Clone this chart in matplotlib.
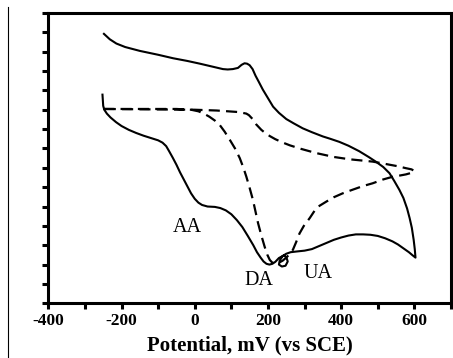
import matplotlib
matplotlib.use("Agg")
import matplotlib.pyplot as plt
from matplotlib.lines import Line2D
from matplotlib.ticker import MultipleLocator, NullFormatter

# Solid CV (mixture): potential (mV) and current (arb. units)
solid_x = [-252, -250, -247, -240, -230, -215, -200, -180, -160, -140, -120, -100, -88, -78,
           -70, -60, -50, -40, -30, -20, -10, 0, 10, 20, 35, 55, 70, 85, 100, 115, 130, 145,
           160, 170, 180, 188, 196, 204, 212, 220, 230, 242, 250, 254, 248, 238, 230, 232,
           240, 250, 262, 280, 300, 320, 340, 360, 380, 400, 420, 440, 460, 480, 500, 520,
           540, 555, 570, 585, 595, 603,
           601, 598, 593, 587, 580, 570, 559, 545, 532, 515, 496, 475, 449, 420, 395, 370,
           350, 320, 295, 270, 250, 230, 214, 200, 186, 175, 166, 158, 150, 143, 136, 128,
           118, 104, 90, 77, 50, 14, -20, -59, -100, -150, -190, -214, -232, -248]
solid_y = [5.39, 5.10, 5.00, 4.90, 4.80, 4.68, 4.58, 4.48, 4.40, 4.33, 4.27, 4.21, 4.15, 4.06,
           3.93, 3.76, 3.58, 3.38, 3.20, 3.02, 2.84, 2.70, 2.60, 2.54, 2.50, 2.49, 2.46, 2.40,
           2.30, 2.15, 1.97, 1.74, 1.50, 1.32, 1.18, 1.08, 1.02, 1.00, 1.02, 1.07, 1.17, 1.23,
           1.20, 1.08, 0.97, 0.95, 1.00, 1.10, 1.22, 1.28, 1.32, 1.34, 1.36, 1.40, 1.48, 1.56,
           1.64, 1.70, 1.75, 1.78, 1.78, 1.77, 1.74, 1.68, 1.60, 1.52, 1.42, 1.32, 1.24, 1.18,
           1.40, 1.64, 1.95, 2.20, 2.45, 2.72, 2.93, 3.16, 3.36, 3.52, 3.65, 3.78, 3.93, 4.07,
           4.17, 4.25, 4.31, 4.42, 4.52, 4.65, 4.76, 4.92, 5.08, 5.30, 5.52, 5.72, 5.88, 6.05,
           6.15, 6.19, 6.20, 6.16, 6.08, 6.05, 6.04, 6.05, 6.11, 6.19, 6.26, 6.33, 6.42, 6.52,
           6.62, 6.71, 6.82, 6.96]

# Dashed CV (DA alone)
dash_x = [-250, -150, -50, -10, 10, 23, 40, 55, 68, 82, 96, 110, 123, 133, 141, 150, 159, 166,
          173, 182, 191, 198, 205, 212, 220, 230, 240, 250, 260, 268, 277, 286, 298, 314, 328,
          341, 360, 380, 404, 430, 460, 486, 515, 541, 560, 577, 592, 600,
          592, 577, 555, 532, 510, 486, 455, 423, 380, 332, 290, 260, 241, 220, 205, 195, 182,
          168, 158, 148, 141, 120, 90, 60, 0, -250]
dash_y = [5.02, 5.02, 5.02, 5.00, 4.96, 4.91, 4.82, 4.72, 4.61, 4.43, 4.22, 4.00, 3.75, 3.50,
          3.27, 2.98, 2.67, 2.37, 2.07, 1.75, 1.46, 1.26, 1.12, 1.05, 1.03, 1.05, 1.10, 1.18,
          1.28, 1.38, 1.58, 1.80, 2.00, 2.20, 2.40, 2.52, 2.63, 2.74, 2.84, 2.93, 3.03, 3.10,
          3.20, 3.27, 3.30, 3.33, 3.37, 3.42,
          3.46, 3.49, 3.54, 3.58, 3.62, 3.66, 3.69, 3.72, 3.78, 3.88, 3.99, 4.08, 4.15, 4.24,
          4.32, 4.38, 4.48, 4.62, 4.76, 4.86, 4.90, 4.94, 4.96, 4.98, 5.00, 5.02]

labels = ["AA", "DA", "UA"]
label_x = [-19, 175, 336]
label_y = [1.95, 0.60, 0.78]

xticks = [-400, -200, 0, 200, 400, 600]

fig = plt.figure(figsize=(4.53, 3.58), dpi=100)
ax = fig.add_axes([0.1066, 0.1528, 0.889, 0.811])

ax.plot(solid_x, solid_y, color="black", lw=1.5, solid_joinstyle="round")
ax.plot(dash_x, dash_y, color="black", lw=1.6, dashes=(5, 2.8))

for t, x, y in zip(labels, label_x, label_y):
    ax.text(x, y, t, ha="center", va="center", fontsize=14.5, family="Liberation Serif")

ax.set_xlim(-400, 700)
ax.set_ylim(0, 7.5)
ax.set_xticks(xticks)
ax.set_xticklabels([str(v) for v in xticks], family="Liberation Serif", fontweight="bold",
                   fontsize=12.5)
ax.xaxis.set_minor_locator(MultipleLocator(100))
ax.yaxis.set_major_locator(MultipleLocator(1))
ax.yaxis.set_minor_locator(MultipleLocator(0.5))
ax.yaxis.set_major_formatter(NullFormatter())
ax.tick_params(which="both", direction="out", length=4, width=2.2, pad=3)
ax.tick_params(axis="y", which="both", left=True, right=False)
ax.tick_params(axis="x", which="both", top=False)
for s in ax.spines.values():
    s.set_linewidth(2.2)

ax.set_xlabel("Potential, mV (vs SCE)", family="Liberation Serif", fontweight="bold",
              fontsize=15, labelpad=5)

fig.add_artist(Line2D([0.0177, 0.0177], [0.0, 0.98], transform=fig.transFigure,
                      color="black", lw=0.8))

fig.savefig("out.png", dpi=100)
